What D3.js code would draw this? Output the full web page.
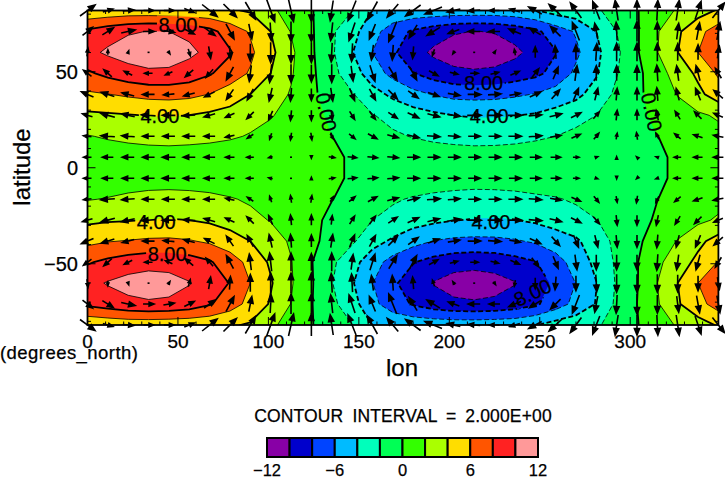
<!DOCTYPE html>
<html>
<head>
<meta charset="utf-8">
<script src="https://cdn.jsdelivr.net/npm/d3@7"></script>
<style>
  body { margin: 0; background: #fff; }
  text { font-family: "Liberation Sans", sans-serif; fill: #000; stroke: #000; stroke-width: 0.25; }
</style>
</head>
<body>
<div id="chart"></div>
<script>
// 32 x 16 grid
const lons = d3.range(32).map(i => i * 11.25);
const lats = [81.9, 71, 60.1, 49.2, 38.2, 27.3, 16.4, 5.5, -5.5, -16.4, -27.3, -38.2, -49.2, -60.1, -71, -81.9];

// contoured field, north to south
const field = [
  [4.3,4.5,4.7,4.7,4.6,4.5,4.4,4.2,3.8,2.4,1.2,0.1,-0.9,-1.95,-4.05,-4.5,-4.6,-4.7,-4.8,-4.8,-4.8,-4.6,-4.1,-3.2,-2.8,-2.2,-1.4,-0.1,1.1,2.2,3.2,4.2],
  [8.4,9.2,9.8,10.05,10,9.6,8.6,7.1,5.8,4,1.9,0.25,-1.7,-3.3,-5.3,-7,-8.3,-9.1,-9.8,-10.05,-9.9,-9.3,-8.4,-7.1,-5.8,-4,-2,-0.2,1.85,3.7,5.4,7],
  [9.5,10.3,10.9,11.1,11,10.4,9.5,8.2,6.4,4.5,2.4,0.3,-1.7,-3.9,-6,-7.7,-9.2,-10.35,-11,-11.2,-10.9,-10.4,-9.4,-8.1,-6.4,-4.5,-2.4,-0.2,1.95,3.97,6,7.5],
  [7.7,8.5,9.2,9.65,9.6,9.1,8.2,7,5.8,4,2.2,0.4,-1.4,-3.1,-5,-6.6,-7.9,-8.9,-9.5,-9.7,-9.6,-9.1,-8.5,-7.3,-5.6,-4.2,-2.1,-0.5,1.2,2.8,4.4,6.3],
  [5.7,5.95,6.3,6.6,6.7,6.5,5.95,5.1,4,2.9,1.85,0.4,-0.9,-1.85,-3.3,-4.4,-5.4,-6.1,-6.6,-6.7,-6.6,-6.3,-5.9,-5.2,-4.5,-3.2,-1.6,-0.4,0.85,2.1,3.5,5],
  [3.6,3.75,3.9,4.05,4.1,3.98,3.6,3.2,2.7,2.15,1.3,0.5,-0.3,-1.2,-1.9,-2.6,-3.1,-3.6,-4,-4.15,-4.15,-4.05,-3.8,-3.3,-2.7,-2,-1.3,-0.4,0.4,1.05,1.7,2.25],
  [1.9,2.2,2.45,2.65,2.75,2.65,2.5,2.25,1.85,1.35,0.9,0.4,0.02,-0.6,-1.1,-1.7,-2.1,-2.45,-2.65,-2.75,-2.7,-2.55,-2.3,-2,-1.5,-1,-0.6,-0.25,-0.02,0.4,0.9,1.4],
  [0.8,0.95,1.05,1.1,1.1,1.05,0.95,0.8,0.65,0.5,0.35,0.2,0.08,-0.05,-0.2,-0.45,-0.65,-0.85,-1,-1.1,-1.1,-1.05,-0.95,-0.8,-0.65,-0.5,-0.35,-0.25,-0.1,0.1,0.25,0.4],
  [0.8,0.95,1.05,1.1,1.1,1,0.9,0.8,0.65,0.5,0.35,0.2,0.08,-0.05,-0.25,-0.45,-0.65,-0.85,-1,-1.1,-1.1,-1.05,-0.95,-0.8,-0.65,-0.5,-0.35,-0.25,-0.1,0.1,0.25,0.4],
  [1.9,2.1,2.4,2.65,2.75,2.7,2.5,2.15,1.75,1.3,0.85,0.45,0.05,-0.55,-1.1,-1.75,-2.2,-2.5,-2.7,-2.8,-2.75,-2.6,-2.35,-2.15,-1.75,-1.2,-0.7,-0.25,-0.02,0.45,0.95,1.4],
  [3.6,3.8,3.9,4.05,4.1,4,3.7,3.2,2.55,1.9,1.2,0.45,-0.4,-1.2,-2,-2.65,-3.2,-3.6,-3.95,-4.1,-4.15,-4.05,-3.7,-3.2,-2.7,-2.05,-1.3,-0.5,0.2,0.95,1.6,2.25],
  [5.5,5.9,6.1,6.3,6.35,6.15,5.7,4.9,4,2.9,1.75,0.5,-0.75,-1.7,-3.3,-4.3,-5.3,-6.05,-6.4,-6.5,-6.45,-6.2,-5.75,-5,-4.3,-3,-1.5,-0.35,0.9,2.1,3.5,4.8],
  [7.8,8.45,9,9.35,9.3,8.9,8.2,7,5.4,3.7,2.1,0.1,-1.6,-3.3,-5.1,-6.8,-7.9,-8.7,-9.2,-9.35,-9.2,-8.7,-8.1,-6.8,-5.2,-3.5,-1.7,-0.1,1.6,3,4.5,6.1],
  [9.4,10.15,10.7,10.9,10.7,10.1,9.3,7.9,6,4.2,2.2,0.2,-1.9,-3.8,-5.95,-7.7,-8.9,-10.1,-10.8,-11,-10.7,-10.1,-8.9,-7.6,-5.95,-4.05,-1.8,-0.1,2,4,6,7.6],
  [8.4,9,9.5,9.75,9.65,9.2,8.2,6.9,5.4,3.8,1.95,0.1,-1.5,-3.2,-5.5,-7,-8.2,-9.1,-9.6,-9.75,-9.6,-9.1,-8.3,-7,-5.4,-3.9,-1.6,0,1.8,3.8,5.3,6.9],
  [4.3,4.5,4.7,4.7,4.6,4.5,4.4,4.2,3.8,2.4,1.2,0.1,-0.9,-1.95,-4.05,-4.5,-4.6,-4.7,-4.8,-4.8,-4.7,-4.6,-4.1,-3.2,-2.8,-2.2,-1.4,-0.1,1.1,2.2,3.2,4.2]
];

// vector components, north to south
const uRows = [
  [15,10,11,10,10,10,15,13,10,8,5,0,-3,-8,-10,-11,-15,-17,-13,-12,-10,-10,-13,-13,-11,-7,-3,0,1,3,6,12],
  [10,11,14,11,11,10,11,8,3,1,0,0,-2,-6,-6,-8,-8,-13,-11,-12,-11,-12,-11,-10,-7,-3,-1,0,0,2,3,3],
  [1,0,1,0,2,2,2,1,0,0,0,0,-1,-1,-2,-1,-1,-2,-2,0,2,-1,0,-1,0,1,0,0,0,0,0,2],
  [-8,-8,-8,-8,-7,-8,-7,-7,-2,-2,0,0,0,2,5,8,7,9,8,8,8,9,7,5,2,0,0,0,-1,-2,-4,-6],
  [-12,-13,-12,-12,-11,-11,-10,-7,-6,-3,-1,0,2,5,6,9,10,11,12,13,13,11,11,8,5,3,1,0,-1,-3,-5,-9],
  [-10,-14,-13,-14,-13,-12,-11,-9,-7,-4,-1,0,1,5,6,9,11,12,13,14,14,14,13,12,10,6,1,0,-2,-5,-7,-9],
  [-8,-14,-13,-12,-12,-12,-11,-9,-6,-2,-1,1,3,6,9,11,12,13,12,12,12,13,13,11,9,5,1,-1,-3,-6,-9,-10],
  [-8,-11,-12,-12,-13,-12,-11,-9,-7,-4,0,0,6,9,10,11,12,12,12,12,12,12,11,10,6,3,0,-1,-3,-7,-9,-10],
  [-8,-11,-12,-12,-13,-12,-11,-9,-7,-4,0,0,6,9,10,11,12,12,12,12,12,12,11,10,6,3,0,-1,-3,-7,-9,-10],
  [-8,-14,-13,-12,-12,-12,-11,-9,-6,-2,-1,1,3,6,9,11,12,13,12,12,12,13,13,11,9,5,1,-1,-3,-6,-9,-10],
  [-10,-14,-13,-14,-13,-12,-11,-9,-7,-4,-1,0,1,5,6,9,11,12,13,14,14,14,13,12,10,6,1,0,-2,-5,-7,-9],
  [-12,-13,-12,-12,-11,-11,-10,-7,-6,-3,-1,0,2,5,6,9,10,11,12,13,13,11,11,8,5,3,1,0,-1,-3,-5,-9],
  [-8,-8,-8,-8,-7,-8,-7,-7,-2,-2,0,0,0,2,5,8,7,9,8,8,8,9,7,5,2,0,0,0,-1,-2,-4,-6],
  [1,0,1,0,2,2,2,1,0,0,0,0,-1,-1,-2,-1,-1,-2,-2,0,2,-1,0,-1,0,1,0,0,0,0,0,2],
  [10,11,14,11,11,10,11,8,3,1,0,0,-2,-6,-6,-8,-8,-13,-11,-12,-11,-12,-11,-10,-7,-3,-1,0,0,2,3,3],
  [15,10,11,10,10,10,15,13,10,8,5,0,-3,-8,-10,-11,-15,-17,-13,-12,-10,-10,-13,-13,-11,-7,-3,0,1,3,6,12]
];
const vRows = [
  [11,3,1,0,0,-4,-12,-13,-17,-22,-22,-22,-20,-20,-18,-13,-11,-7,-3,-1,0,3,7,12,15,18,20,20,20,20,18,15],
  [8,7,3,0,-2,-5,-8,-15,-15,-18,-20,-20,-18,-18,-15,-20,-13,-8,-4,0,0,5,7,10,18,16,18,20,18,16,17,17],
  [8,5,3,0,-3,-7,-12,-13,-17,-20,-20,-20,-19,-18,-15,-15,-12,-6,-3,0,3,6,11,13,15,17,18,18,18,17,15,12],
  [6,7,4,0,-3,-7,-8,-13,-16,-18,-18,-17,-18,-15,-16,-13,-13,-5,-2,0,2,4,9,12,15,15,15,15,16,15,15,10],
  [5,4,3,0,-1,-3,-5,-10,-11,-13,-13,-12,-13,-12,-11,-9,-7,-4,-2,0,1,2,5,9,12,12,12,12,13,12,12,8],
  [3,4,3,1,0,-1,-3,-4,-7,-9,-10,-10,-9,-8,-8,-6,-5,-3,-2,0,0,0,1,3,5,7,10,10,10,8,7,4],
  [1,1,1,0,0,0,0,-2,-4,-6,-7,-7,-5,-5,-5,-3,-3,-1,-1,0,0,0,1,2,4,6,6,7,6,5,3,2],
  [0,0,0,0,0,0,0,0,0,-1,0,-2,-1,-1,-1,-1,0,0,0,0,0,0,0,0,0,1,1,1,1,0,0,0],
  [0,0,0,0,0,0,0,0,0,1,0,2,1,1,1,1,0,0,0,0,0,0,0,0,0,-1,-1,-1,-1,0,0,0],
  [-1,-1,-1,0,0,0,0,2,4,6,7,7,5,5,5,3,3,1,1,0,0,0,-1,-2,-4,-6,-6,-7,-6,-5,-3,-2],
  [-3,-4,-3,-1,0,1,3,4,7,9,10,10,9,8,8,6,5,3,2,0,0,0,-1,-3,-5,-7,-10,-10,-10,-8,-7,-4],
  [-5,-4,-3,0,1,3,5,10,11,13,13,12,13,12,11,9,7,4,2,0,-1,-2,-5,-9,-12,-12,-12,-12,-13,-12,-12,-8],
  [-6,-7,-4,0,3,7,8,13,16,18,18,17,18,15,16,13,13,5,2,0,-2,-4,-9,-12,-15,-15,-15,-15,-16,-15,-15,-10],
  [-8,-5,-3,0,3,7,12,13,17,20,20,20,19,18,15,15,12,6,3,0,-3,-6,-11,-13,-15,-17,-18,-18,-18,-17,-15,-12],
  [-8,-7,-3,0,2,5,8,15,15,18,20,20,18,18,15,20,13,8,4,0,0,-5,-7,-10,-18,-16,-18,-20,-18,-16,-17,-17],
  [-11,-3,-1,0,0,4,12,13,17,22,22,22,20,20,18,13,11,7,3,1,0,-3,-7,-12,-15,-18,-20,-20,-20,-20,-18,-15]
];

const levels = d3.range(-12, 12, 2);
const colors = ["#8800a6", "#0000cc", "#0044ff", "#00bbff", "#00ffbb", "#00ff55",
                "#33ff00", "#aaff00", "#ffdd00", "#ff5500", "#ff2222", "#ff9999"];
const lineLevels = d3.range(-10, 12, 2);
const barTicks = [-12, -6, 0, 6, 12];
const lonTicks = [0, 50, 100, 150, 200, 250, 300];
const latTicks = [-50, 0, 50];

// contour label spots: text, lon/lat position, rotation
const labelText = ["8.00", "4.00", "0.00", "8.00", "4.00", "0.00", "4.00", "8.00", "4.00", "8.00"];
const labelLon = [50, 40, 132, 219, 222, 312, 38, 44, 223, 246];
const labelLat = [74.6, 27, 29, 44.5, 27, 29, -28, -45, -28, -65];
const labelRot = [0, 0, 78, 0, 0, 78, 0, 0, 0, -25];

const width = 725, height = 477;
const x = d3.scaleLinear().domain([0, 348.75]).range([87.5, 718.4]);
const y = d3.scaleLinear().domain([81.9, -81.9]).range([10.5, 325]);

const svg = d3.select("#chart").append("svg")
    .attr("width", width)
    .attr("height", height)
    .style("display", "block");

const defs = svg.append("defs");
defs.append("clipPath").attr("id", "plot")
  .append("rect")
    .attr("x", x(0)).attr("y", y(81.9))
    .attr("width", x(348.75) - x(0)).attr("height", y(-81.9) - y(81.9));

const mask = defs.append("mask").attr("id", "gaps")
    .attr("maskUnits", "userSpaceOnUse")
    .attr("x", 0).attr("y", 0).attr("width", width).attr("height", height);
mask.append("rect").attr("width", width).attr("height", height).attr("fill", "#fff");
mask.selectAll("rect.gap")
  .data(labelText)
  .join("rect")
    .attr("class", "gap")
    .attr("x", -21).attr("y", -9)
    .attr("width", 42).attr("height", 18)
    .attr("fill", "#000")
    .attr("transform", (d, i) => `translate(${x(labelLon[i])},${y(labelLat[i])}) rotate(${labelRot[i]})`);

// d3.contours works in grid coordinates, cell centres at +0.5
const values = field.flat();
const contours = d3.contours().size([lons.length, lats.length]).smooth(true);
const lonAt = d3.scaleLinear().domain([0.5, lons.length - 0.5]).range([x(0), x(348.75)]);
const latAt = d3.scaleLinear().domain([0.5, lats.length - 0.5]).range([y(81.9), y(-81.9)]);
// gaussian rows are evenly spaced enough that the index maps straight on to y
const path = d3.geoPath(d3.geoTransform({
  point(px, py) { this.stream.point(lonAt(px), latAt(py)); }
}));

const plot = svg.append("g").attr("clip-path", "url(#plot)");
plot.append("rect")
    .attr("x", x(0)).attr("y", y(81.9))
    .attr("width", x(348.75) - x(0)).attr("height", y(-81.9) - y(81.9))
    .attr("fill", colors[0]);
plot.append("g")
  .selectAll("path")
  .data(levels.slice(1))
  .join("path")
    .attr("d", t => path(contours.contour(values, t)))
    .attr("fill", (t, i) => colors[i + 1]);

// every second level is the heavy one, negatives dashed
plot.append("g")
    .attr("mask", "url(#gaps)")
    .attr("fill", "none")
    .attr("stroke", "#000")
  .selectAll("path")
  .data(lineLevels)
  .join("path")
    .attr("d", t => path(contours.contour(values, t)))
    .attr("stroke-width", t => t % 4 === 0 ? 1.8 : 0.8)
    .attr("stroke-dasharray", t => t < 0 ? "5,2.5" : null);

// arrows, centred on the grid point, not clipped
const arrows = [];
lats.forEach((lat, r) => lons.forEach((lon, c) => {
  arrows.push({lon, lat, u: uRows[r][c], v: vRows[r][c]});
}));
const arrowPath = d => {
  const cx = x(d.lon), cy = y(d.lat);
  const len = Math.hypot(d.u, d.v);
  if (len === 0) return `M${cx - 1},${cy}h2`;
  const ux = d.u / len, uy = -d.v / len;
  const x0 = cx - d.u / 2, y0 = cy + d.v / 2, x1 = cx + d.u / 2, y1 = cy - d.v / 2;
  const hl = Math.max(2.5, Math.min(6.5, len * 0.45)), hw = hl * 0.4;
  const bx = x1 - ux * hl, by = y1 - uy * hl;
  return `M${x0},${y0}L${bx},${by}M${x1},${y1}L${bx - uy * hw},${by + ux * hw}L${bx + uy * hw},${by - ux * hw}Z`;
};
svg.append("g")
    .attr("stroke", "#000")
    .attr("stroke-width", 1.6)
    .attr("fill", "#000")
  .selectAll("path")
  .data(arrows)
  .join("path")
    .attr("d", arrowPath);

// frame and inward ticks
const frame = svg.append("g").attr("stroke", "#000").attr("fill", "none");
frame.append("rect")
    .attr("x", x(0)).attr("y", y(81.9))
    .attr("width", x(348.75) - x(0)).attr("height", y(-81.9) - y(81.9))
    .attr("stroke-width", 1.8);
const lonMinor = d3.range(0, 349, 10);
const latMinor = d3.range(-80, 81, 10);
frame.selectAll("path.xt")
  .data(lonMinor)
  .join("path").attr("class", "xt")
    .attr("stroke-width", 1)
    .attr("d", d => {
      const l = d % 50 === 0 ? 8 : 3.5;
      return `M${x(d)},${y(-81.9)}v${-l}M${x(d)},${y(81.9)}v${l}`;
    });
frame.selectAll("path.yt")
  .data(latMinor)
  .join("path").attr("class", "yt")
    .attr("stroke-width", 1)
    .attr("d", d => {
      const l = d % 50 === 0 ? 8 : 3.5;
      return `M${x(0)},${y(d)}h${l}M${x(348.75)},${y(d)}h${-l}`;
    });

// contour labels
svg.append("g").selectAll("text")
  .data(labelText)
  .join("text")
    .attr("font-size", 20)
    .attr("text-anchor", "middle")
    .attr("dy", "0.36em")
    .attr("transform", (d, i) => `translate(${x(labelLon[i])},${y(labelLat[i])}) rotate(${labelRot[i]})`)
    .text(d => d);

// axis text
const fmt = d => String(d).replace("-", "\u2212");
svg.append("g").selectAll("text")
  .data(lonTicks)
  .join("text")
    .attr("x", d => x(d)).attr("y", 347.5)
    .attr("font-size", 19)
    .attr("text-anchor", "middle")
    .text(fmt);
svg.append("g").selectAll("text")
  .data(latTicks)
  .join("text")
    .attr("x", 78).attr("y", d => y(d) + 7)
    .attr("font-size", 20)
    .attr("text-anchor", "end")
    .text(fmt);
svg.append("text")
    .attr("x", 402).attr("y", 376)
    .attr("font-size", 24)
    .attr("text-anchor", "middle")
    .text("lon");
svg.append("text")
    .attr("transform", "translate(30,167) rotate(-90)")
    .attr("font-size", 24)
    .attr("text-anchor", "middle")
    .text("latitude");
svg.append("text")
    .attr("x", 0).attr("y", 359)
    .attr("font-size", 18.5)
    .attr("letter-spacing", 0.45)
    .text("(degrees_north)");
svg.append("text")
    .attr("x", 403).attr("y", 422)
    .attr("font-size", 17.5)
    .attr("text-anchor", "middle")
    .attr("word-spacing", 4)
    .attr("letter-spacing", 0.15)
    .text("CONTOUR INTERVAL = 2.000E+00");

// colour bar
const bar = d3.scaleLinear().domain([-12, 12]).range([267, 538]);
svg.append("g")
    .attr("stroke", "#000")
    .attr("stroke-width", 2)
  .selectAll("rect")
  .data(levels)
  .join("rect")
    .attr("x", d => bar(d)).attr("y", 438)
    .attr("width", d => bar(d + 2) - bar(d)).attr("height", 19)
    .attr("fill", (d, i) => colors[i]);
svg.append("g").selectAll("text")
  .data(barTicks)
  .join("text")
    .attr("x", d => bar(d)).attr("y", 475.5)
    .attr("font-size", 16.5)
    .attr("text-anchor", "middle")
    .text(fmt);
</script>
</body>
</html>
